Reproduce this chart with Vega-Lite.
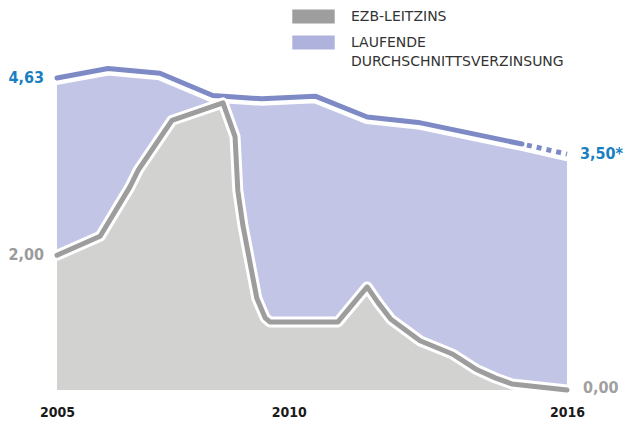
{
  "$schema": "https://vega.github.io/schema/vega-lite/v6.json",
  "width": 510,
  "height": 337,
  "autosize": {"type": "none"},
  "padding": {"left": 57, "top": 53, "right": 60, "bottom": 34},
  "config": {
    "view": {"stroke": null},
    "font": "DejaVu Sans",
    "style": {"guide-label": {"lineHeight": 19}}
  },
  "datasets": {
    "durchschnitt": [
      {"jahr": 2005.0, "zins": 4.63},
      {"jahr": 2006.10, "zins": 4.77},
      {"jahr": 2007.22, "zins": 4.70},
      {"jahr": 2008.36, "zins": 4.37},
      {"jahr": 2009.42, "zins": 4.32},
      {"jahr": 2010.57, "zins": 4.36},
      {"jahr": 2011.69, "zins": 4.05},
      {"jahr": 2012.79, "zins": 3.97},
      {"jahr": 2015.03, "zins": 3.65},
      {"jahr": 2016.0, "zins": 3.50}
    ],
    "leitzins": [
      {"jahr": 2005.0, "zins": 2.00},
      {"jahr": 2005.93, "zins": 2.28},
      {"jahr": 2006.57, "zins": 3.01},
      {"jahr": 2006.75, "zins": 3.26},
      {"jahr": 2007.48, "zins": 4.00},
      {"jahr": 2008.58, "zins": 4.26},
      {"jahr": 2008.84, "zins": 3.76},
      {"jahr": 2008.90, "zins": 2.96},
      {"jahr": 2009.01, "zins": 2.44},
      {"jahr": 2009.16, "zins": 1.90},
      {"jahr": 2009.31, "zins": 1.36},
      {"jahr": 2009.49, "zins": 1.07},
      {"jahr": 2009.59, "zins": 1.01},
      {"jahr": 2011.06, "zins": 1.01},
      {"jahr": 2011.69, "zins": 1.53},
      {"jahr": 2011.92, "zins": 1.30},
      {"jahr": 2012.20, "zins": 1.05},
      {"jahr": 2012.83, "zins": 0.73},
      {"jahr": 2013.54, "zins": 0.53},
      {"jahr": 2014.06, "zins": 0.30},
      {"jahr": 2014.45, "zins": 0.18},
      {"jahr": 2014.81, "zins": 0.09},
      {"jahr": 2016.0, "zins": 0.0}
    ],
    "legende": [
      {"reihe": "EZB-LEITZINS"},
      {"reihe": "LAUFENDE|DURCHSCHNITTSVERZINSUNG"}
    ]
  },
  "encoding": {
    "x": {
      "field": "jahr", "type": "quantitative",
      "scale": {"domain": [2005, 2016], "nice": false, "zero": false},
      "axis": {
        "values": [2005, 2010, 2016], "format": "d", "title": null,
        "domain": false, "ticks": false, "grid": false, "labelFlush": false,
        "labelFont": "DejaVu Sans Condensed", "labelFontWeight": "bold",
        "labelFontSize": 14, "labelColor": "#1a1a1a", "labelPadding": 15
      }
    },
    "y": {
      "field": "zins", "type": "quantitative",
      "scale": {"domain": [0, 5], "nice": false, "zero": true},
      "axis": null
    }
  },
  "layer": [
    {"data": {"name": "durchschnitt"}, "mark": {"type": "area", "color": "#c2c5e5"}},
    {"data": {"name": "durchschnitt"}, "mark": {"type": "line", "color": "#ffffff", "strokeWidth": 14, "strokeCap": "round", "strokeJoin": "round"}},
    {"data": {"name": "durchschnitt"}, "transform": [{"filter": "datum.jahr <= 2015.03"}], "mark": {"type": "line", "color": "#7e8ac6", "strokeWidth": 5, "strokeCap": "round", "strokeJoin": "round"}},
    {"data": {"name": "durchschnitt"}, "transform": [{"filter": "datum.jahr >= 2015.03"}], "mark": {"type": "line", "color": "#7e8ac6", "strokeWidth": 5, "strokeCap": "butt", "strokeDash": [5, 5], "strokeDashOffset": 5}},
    {"data": {"name": "leitzins"}, "mark": {"type": "area", "color": "#d2d3d1"}},
    {"data": {"name": "leitzins"}, "mark": {"type": "line", "color": "#ffffff", "strokeWidth": 11, "strokeCap": "round", "strokeJoin": "round"}},
    {"data": {"name": "leitzins"}, "mark": {"type": "line", "color": "#9d9d9d", "strokeWidth": 5, "strokeCap": "round", "strokeJoin": "round"}},
    {
      "data": {"values": [{"jahr": 2005, "zins": 4.63, "wert": "4,63"}]},
      "mark": {"type": "text", "align": "right", "baseline": "middle", "dx": -13, "font": "DejaVu Sans Condensed", "fontWeight": "bold", "fontSize": 16, "color": "#1a7fc1"},
      "encoding": {"text": {"field": "wert"}}
    },
    {
      "data": {"values": [{"jahr": 2005, "zins": 2.00, "wert": "2,00"}]},
      "mark": {"type": "text", "align": "right", "baseline": "middle", "dx": -13, "font": "DejaVu Sans Condensed", "fontWeight": "bold", "fontSize": 16, "color": "#9b9b9b"},
      "encoding": {"text": {"field": "wert"}}
    },
    {
      "data": {"values": [{"jahr": 2016, "zins": 3.50, "wert": "3,50*"}]},
      "mark": {"type": "text", "align": "left", "baseline": "middle", "dx": 13, "font": "DejaVu Sans Condensed", "fontWeight": "bold", "fontSize": 16, "color": "#1a7fc1"},
      "encoding": {"text": {"field": "wert"}}
    },
    {
      "data": {"values": [{"jahr": 2016, "zins": 0.0, "wert": "0,00"}]},
      "mark": {"type": "text", "align": "left", "baseline": "middle", "dx": 16, "dy": -2, "font": "DejaVu Sans Condensed", "fontWeight": "bold", "fontSize": 16, "color": "#a0a0a0"},
      "encoding": {"text": {"field": "wert"}}
    },
    {
      "data": {"name": "legende"},
      "mark": {"type": "point", "filled": true, "opacity": 0},
      "encoding": {
        "x": {"value": 0},
        "y": {"value": 0},
        "color": {
          "field": "reihe", "type": "nominal",
          "scale": {"domain": ["EZB-LEITZINS", "LAUFENDE|DURCHSCHNITTSVERZINSUNG"], "range": ["#9e9e9e", "#aeb2dc"]},
          "legend": {
            "orient": "none", "legendX": 242, "legendY": -51, "title": null,
            "symbolType": "M-1.5,-0.5H1.5V0.5H-1.5Z", "symbolSize": 800,
            "symbolOpacity": 1, "symbolStrokeWidth": 0,
            "labelExpr": "split(datum.label, '|')",
            "labelFont": "DejaVu Sans", "labelFontSize": 14, "labelColor": "#333333",
            "labelOffset": 23, "labelLimit": 400, "rowPadding": 4, "padding": 0
          }
        }
      }
    }
  ]
}
